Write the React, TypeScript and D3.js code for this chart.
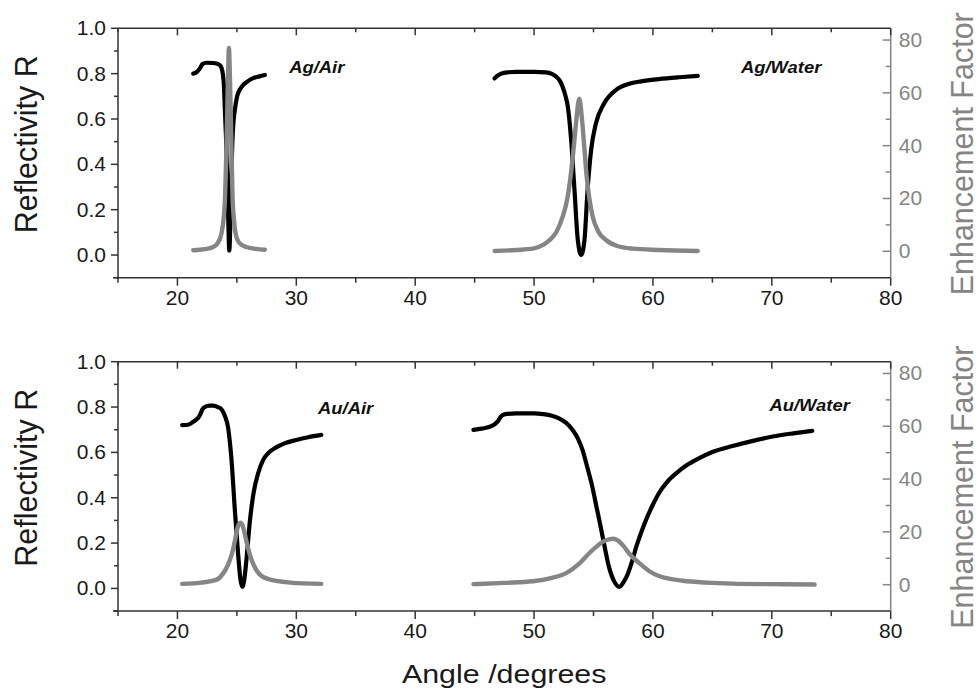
import React from 'react'
import * as d3 from 'd3'

// angle (deg), reflectivity R  /  angle (deg), enhancement factor
const agAirR: [number, number][] = [
  [21.33, 0.80], [21.6, 0.806], [21.89, 0.823], [22.1, 0.842], [22.45, 0.848], [23.0, 0.847],
  [23.29, 0.845], [23.55, 0.838], [23.71, 0.825], [23.9, 0.757], [23.99, 0.64], [24.1, 0.5],
  [24.2, 0.33], [24.28, 0.15], [24.36, 0.02], [24.44, 0.12], [24.52, 0.32], [24.62, 0.5],
  [24.72, 0.59], [24.83, 0.64], [25.02, 0.70], [25.25, 0.73], [25.52, 0.75], [25.9, 0.766],
  [26.37, 0.78], [26.9, 0.788], [27.35, 0.794],
]
const agAirEF: [number, number][] = [
  [21.33, 0.4], [22.3, 0.8], [23.0, 1.6], [23.4, 3.2], [23.7, 6.7], [23.9, 13], [24.0, 20],
  [24.13, 40], [24.25, 65], [24.33, 77], [24.42, 65], [24.53, 42], [24.64, 20], [24.75, 12],
  [24.9, 6.7], [25.2, 3.2], [25.8, 1.6], [26.6, 0.9], [27.35, 0.6],
]
const agWaterR: [number, number][] = [
  [46.68, 0.779], [46.9, 0.79], [47.24, 0.80], [47.8, 0.806], [48.5, 0.808], [50.0, 0.808],
  [51.0, 0.806], [51.5, 0.799], [51.86, 0.787], [52.15, 0.77], [52.4, 0.742], [52.65, 0.70],
  [52.84, 0.654], [53.0, 0.58], [53.12, 0.507], [53.4, 0.287], [53.68, 0.066], [53.96, 0.0],
  [54.24, 0.066], [54.5, 0.287], [54.8, 0.463], [55.2, 0.58], [55.9, 0.669], [56.9, 0.728],
  [58.0, 0.755], [59.0, 0.766], [60.5, 0.776], [62.2, 0.784], [63.77, 0.79],
]
const agWaterEF: [number, number][] = [
  [46.68, 0.1], [48.5, 0.5], [49.9, 1.0], [50.8, 2.5], [51.3, 4.2], [51.9, 7.5], [52.4, 13],
  [52.8, 20], [53.1, 29.4], [53.35, 40], [53.54, 49], [53.8, 57.8], [54.05, 49], [54.25, 38],
  [54.4, 29.4], [54.65, 20], [54.94, 13], [55.4, 7.5], [56.07, 4.2], [57.0, 2.0], [58.3, 1.0],
  [60.5, 0.5], [63.77, 0.1],
]
const auAirR: [number, number][] = [
  [20.4, 0.72], [20.9, 0.722], [21.33, 0.735], [21.7, 0.75], [21.9, 0.765], [22.1, 0.79],
  [22.3, 0.80], [22.7, 0.806], [23.0, 0.806], [23.4, 0.80], [23.7, 0.79], [24.0, 0.76],
  [24.26, 0.71], [24.55, 0.566], [24.83, 0.345], [25.1, 0.154], [25.3, 0.04], [25.47, 0.007],
  [25.65, 0.05], [25.8, 0.125], [26.1, 0.30], [26.4, 0.42], [26.8, 0.51], [27.2, 0.566],
  [27.7, 0.6], [28.3, 0.622], [29.0, 0.64], [30.0, 0.655], [31.0, 0.667], [32.1, 0.677],
]
const auAirEF: [number, number][] = [
  [20.4, 0.3], [22.0, 0.8], [23.3, 1.9], [23.8, 4], [24.26, 7.6], [24.6, 12], [24.83, 16.5],
  [25.0, 20.5], [25.15, 22.8], [25.3, 23.5], [25.45, 22.8], [25.6, 20.5], [25.8, 16.5],
  [26.05, 12], [26.4, 7.6], [26.9, 4], [27.8, 1.9], [29.5, 0.8], [32.1, 0.3],
]
const auWaterR: [number, number][] = [
  [44.9, 0.699], [45.6, 0.705], [46.26, 0.713], [46.7, 0.725], [46.96, 0.738], [47.2, 0.758],
  [47.5, 0.768], [48.5, 0.772], [50.0, 0.772], [50.74, 0.769], [51.5, 0.762], [52.1, 0.75],
  [52.7, 0.73], [53.24, 0.699], [53.7, 0.66], [54.08, 0.61], [54.5, 0.53], [54.9, 0.448],
  [55.25, 0.36], [55.6, 0.272], [55.95, 0.18], [56.3, 0.095], [56.75, 0.03], [57.17, 0.007],
  [57.55, 0.03], [57.9, 0.066], [58.25, 0.12], [58.6, 0.184], [59.0, 0.245], [59.4, 0.30],
  [60.0, 0.37], [60.5, 0.42], [61.2, 0.47], [62.0, 0.51], [62.8, 0.542], [63.9, 0.575],
  [65.0, 0.602], [66.7, 0.628], [68.5, 0.652], [70.07, 0.67], [71.8, 0.684], [73.4, 0.695],
]
const auWaterEF: [number, number][] = [
  [44.9, 0.2], [47.5, 0.7], [49.9, 1.3], [51.5, 2.6], [52.7, 4.4], [53.8, 8], [54.7, 12.2],
  [55.3, 14.6], [55.8, 16.3], [56.3, 17.2], [56.7, 17.4], [57.1, 16.6], [57.5, 14.8],
  [58.0, 11.8], [58.9, 8], [59.7, 5.1], [60.5, 3.3], [61.7, 2.0], [62.5, 1.5], [64.5, 0.8],
  [66.7, 0.4], [70, 0.2], [73.6, 0.1],
]

const xTicks = [20, 30, 40, 50, 60, 70, 80]
const xMinor = [15, 25, 35, 45, 55, 65, 75]
const rTicks = [0, 0.2, 0.4, 0.6, 0.8, 1.0]
const rMinor = [-0.1, 0.1, 0.3, 0.5, 0.7, 0.9]
const efTicks = [0, 20, 40, 60, 80]
const efMinor = [10, 30, 50, 70]

const panelLabels = [
  [{ text: 'Ag/Air', x: 29.4, r: 0.804 }, { text: 'Ag/Water', x: 67.4, r: 0.804 }],
  [{ text: 'Au/Air', x: 31.83, r: 0.769 }, { text: 'Au/Water', x: 69.8, r: 0.782 }],
]
const panelCurves = [
  { refl: [agAirR, agWaterR], ef: [agAirEF, agWaterEF] },
  { refl: [auAirR, auWaterR], ef: [auAirEF, auWaterEF] },
]

const FONT = 'Liberation Sans, Arial, Helvetica, sans-serif'
const AXIS = '#333'
const GREY = '#858585'

const chartWidth = 980
const chartHeight = 690
const plotLeft = 118
const plotRight = 890.7
const panelTops = [28.3, 361.7]
const panelH = 249.4

// horizontally stretched text, like the scanned figure
function SText(props: any) {
  const { x, y, sx, children, ...rest } = props
  return (
    <text transform={`translate(${x},${y}) scale(${sx},1)`} {...rest}>{children}</text>
  )
}

function Panel(props: { idx: number }) {
  const idx = props.idx
  const top = panelTops[idx]
  const bottom = top + panelH
  const left = plotLeft
  const right = plotRight
  const x = d3.scaleLinear().domain([15, 80]).range([left, right])
  const yR = d3.scaleLinear().domain([-0.1, 1.0]).range([bottom, top])
  const yE = d3.scaleLinear().domain([-10, 84.45]).range([bottom, top])
  const lineR = d3.line<[number, number]>().x(d => x(d[0])).y(d => yR(d[1])).curve(d3.curveMonotoneX)
  const lineE = d3.line<[number, number]>().x(d => x(d[0])).y(d => yE(d[1])).curve(d3.curveMonotoneX)
  const c = panelCurves[idx]
  const tickFs = 20

  return (
    <g>
      {c.refl.map((d, i) => (
        <path key={'r' + i} d={lineR(d) || ''} fill="none" stroke="#000" strokeWidth={4.2} strokeLinecap="round" strokeLinejoin="round" />
      ))}
      {c.ef.map((d, i) => (
        <path key={'e' + i} d={lineE(d) || ''} fill="none" stroke={GREY} strokeWidth={4.4} strokeLinecap="round" strokeLinejoin="round" />
      ))}

      {/* frame */}
      <line x1={left} x2={right} y1={top} y2={top} stroke={AXIS} strokeWidth={1.5} />
      <line x1={left - 5} x2={right} y1={bottom} y2={bottom} stroke={AXIS} strokeWidth={1.5} />
      <line x1={left} x2={left} y1={top} y2={bottom + 1} stroke={AXIS} strokeWidth={1.5} />
      <line x1={right} x2={right} y1={top} y2={bottom} stroke={GREY} strokeWidth={1.5} />

      {/* bottom / top ticks */}
      {xTicks.map(t => (
        <g key={'xt' + t}>
          <line x1={x(t)} x2={x(t)} y1={bottom} y2={bottom + 8} stroke={AXIS} strokeWidth={1.5} />
          <line x1={x(t)} x2={x(t)} y1={top} y2={top + 7} stroke={AXIS} strokeWidth={1.5} />
          <SText x={x(t)} y={bottom + 27} sx={1.05} textAnchor="middle" fontFamily={FONT} fontSize={tickFs} fill="#1a1a1a">{t}</SText>
        </g>
      ))}
      {xMinor.map(t => (
        <g key={'xm' + t}>
          <line x1={x(t)} x2={x(t)} y1={bottom} y2={bottom + 5} stroke={AXIS} strokeWidth={1.5} />
          <line x1={x(t)} x2={x(t)} y1={top} y2={top + 4} stroke={AXIS} strokeWidth={1.5} />
        </g>
      ))}

      {/* left axis */}
      {rTicks.map(t => (
        <g key={'rt' + t}>
          <line x1={left - 7} x2={left} y1={yR(t)} y2={yR(t)} stroke={AXIS} strokeWidth={1.5} />
          <SText x={left - 12} y={yR(t) + 7} sx={1.05} textAnchor="end" fontFamily={FONT} fontSize={tickFs} fill="#1a1a1a">{t.toFixed(1)}</SText>
        </g>
      ))}
      {rMinor.map(t => (
        <line key={'rm' + t} x1={left - 4} x2={left} y1={yR(t)} y2={yR(t)} stroke={AXIS} strokeWidth={1.5} />
      ))}

      {/* right axis */}
      {efTicks.map(t => (
        <g key={'et' + t}>
          <line x1={right - 8} x2={right} y1={yE(t)} y2={yE(t)} stroke={GREY} strokeWidth={1.5} />
          <SText x={right + 8} y={yE(t) + 7} sx={1.05} textAnchor="start" fontFamily={FONT} fontSize={tickFs} fill={GREY}>{t}</SText>
        </g>
      ))}
      {efMinor.map(t => (
        <line key={'em' + t} x1={right - 5} x2={right} y1={yE(t)} y2={yE(t)} stroke={GREY} strokeWidth={1.5} />
      ))}

      {/* axis titles */}
      <text transform={`translate(37,${top + 116}) rotate(-90)`} textAnchor="middle" fontFamily={FONT} fontSize={30.5} fill="#1a1a1a">Reflectivity R</text>
      <text transform={`translate(973,${top + 125.5}) rotate(-90)`} textAnchor="middle" fontFamily={FONT} fontSize={30.5} fill={GREY}>Enhancement Factor</text>

      {panelLabels[idx].map(l => (
        <SText key={l.text} x={x(l.x)} y={yR(l.r)} sx={1.15} fontFamily={FONT} fontSize={16} fontWeight="bold" fontStyle="italic" fill="#111">{l.text}</SText>
      ))}
    </g>
  )
}

export default function App() {
  return (
    <svg width={chartWidth} height={chartHeight} style={{ position: 'absolute', left: 0, top: 0, background: '#fff' }}>
      <rect width={chartWidth} height={chartHeight} fill="#fff" />
      <Panel idx={0} />
      <Panel idx={1} />
      <SText x={504.2} y={683.3} sx={1.17} textAnchor="middle" fontFamily={FONT} fontSize={26} fill="#1a1a1a">Angle /degrees</SText>
    </svg>
  )
}
